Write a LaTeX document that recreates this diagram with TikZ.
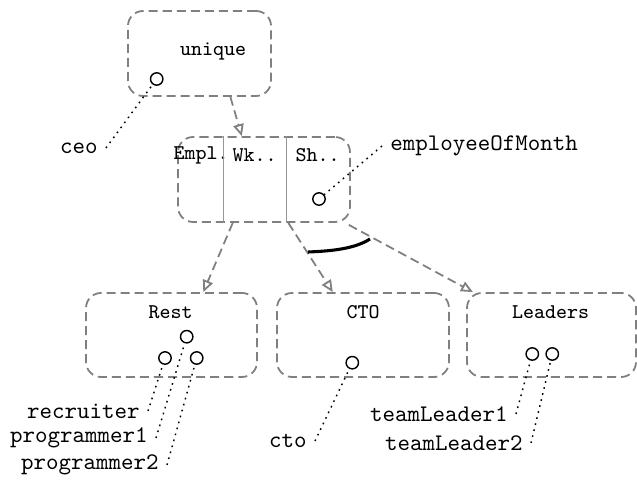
\documentclass[tikz,border=0pt]{standalone}
\usetikzlibrary{arrows.meta,calc}
\definecolor{boxgray}{RGB}{128,128,128}
\definecolor{divgray}{RGB}{150,150,150}
\begin{document}
\begin{tikzpicture}[x=0.42pt,y=-0.42pt,
  region/.style={draw=boxgray, line width=0.75pt, dash pattern=on 3.8pt off 2.1pt,
    rounded corners=6.3pt, rectangle, inner sep=0pt},
  title/.style={font=\fontsize{8.8}{10}\selectfont\ttfamily, inner sep=1pt},
  inst/.style={circle, draw=black, line width=0.6pt, minimum size=5.2pt, inner sep=0pt},
  lbl/.style={font=\ttfamily, inner sep=3.3pt},
  link/.style={draw=black, line width=0.6pt, dash pattern=on 0.7pt off 1.9pt},
  gen/.style={draw=boxgray, line width=0.75pt, dash pattern=on 3.8pt off 2.1pt,
    -{Triangle[open,length=5pt,width=4.4pt]}},
  divider/.style={draw=divgray, line width=0.5pt}
]
\useasboundingbox (0,0) rectangle (637,481);

% containers
\node[region, minimum width=60.1pt, minimum height=35.7pt] (unique) at (199.5,53.5) {};
\node[region, minimum width=72.2pt, minimum height=35.7pt] (split) at (264,179.5) {};
\node[region, minimum width=71.8pt, minimum height=35.3pt] (rest) at (171.5,335) {};
\node[region, minimum width=72.2pt, minimum height=35.3pt] (ctobox) at (363,335) {};
\node[region, minimum width=71pt, minimum height=35.3pt] (leaders) at (551.5,335) {};

% container titles
\node[title] (tunique) at (213,51) {unique};
\node[title] (templ) at (201,155) {Empl.};
\node[title] (twk) at (254.5,155) {Wk..};
\node[title] (tsh) at (317.5,155) {Sh..};
\node[title] (trest) at (170.5,312) {Rest};
\node[title] (tcto) at (363,312) {CTO};
\node[title] (tleaders) at (550.5,312) {Leaders};

% column dividers of the split container
\coordinate (d1t) at ($(split.north west)!0.267!(split.north east)$);
\coordinate (d1b) at ($(split.south west)!0.267!(split.south east)$);
\coordinate (d2t) at ($(split.north west)!0.628!(split.north east)$);
\coordinate (d2b) at ($(split.south west)!0.628!(split.south east)$);
\draw[divider] (d1t) -- (d1b);
\draw[divider] (d2t) -- (d2b);

% instances
\node[inst] (iceo) at (156.7,79) {};
\node[inst] (iemp) at (319,199) {};
\node[inst] (iprog1) at (186.7,336.7) {};
\node[inst] (irec) at (165,358) {};
\node[inst] (iprog2) at (196.7,358) {};
\node[inst] (icto) at (352.3,362.7) {};
\node[inst] (itl1) at (532.3,354) {};
\node[inst] (itl2) at (552.3,354) {};

% instance names
\node[lbl, anchor=east] (lceo) at (106,148) {ceo};
\node[lbl, anchor=west] (lemp) at (382,146) {employeeOfMonth};
\node[lbl, anchor=east] (lrec) at (148,411) {recruiter};
\node[lbl, anchor=east] (lprog1) at (156,438) {programmer1};
\node[lbl, anchor=east] (lprog2) at (167,465) {programmer2};
\node[lbl, anchor=east] (lcto) at (315,441) {cto};
\node[lbl, anchor=east] (ltl1) at (516,414) {teamLeader1};
\node[lbl, anchor=east] (ltl2) at (531,443) {teamLeader2};

\draw[link] (lceo.east) -- (iceo);
\draw[link] (lemp.west) -- (iemp);
\draw[link] (lrec.east) -- (irec);
\draw[link] (lprog1.east) -- (iprog1);
\draw[link] (lprog2.east) -- (iprog2);
\draw[link] (lcto.east) -- (icto);
\draw[link] (ltl1.east) -- (itl1);
\draw[link] (ltl2.east) -- (itl2);

% generalisation arrows
\draw[gen] ($(unique.south west)!0.713!(unique.south east)$) -- ($(split.north west)!0.372!(split.north east)$);
\draw[gen] ($(split.south west)!0.32!(split.south east)$) -- ($(rest.north west)!0.684!(rest.north east)$);
\draw[gen] ($(split.south west)!0.64!(split.south east)$) -- ($(ctobox.north west)!0.326!(ctobox.north east)$);
\draw[gen] ($(split.south east)+(-2,2)$) -- ($(leaders.north west)!0.04!(leaders.north east)$);

% completeness arc
\coordinate (arcA) at (308,252);
\coordinate (arcB) at (370,239);
\draw[line width=1.3pt] (arcA) .. controls (335,251) and (356,248) .. (arcB);
\end{tikzpicture}
\end{document}
